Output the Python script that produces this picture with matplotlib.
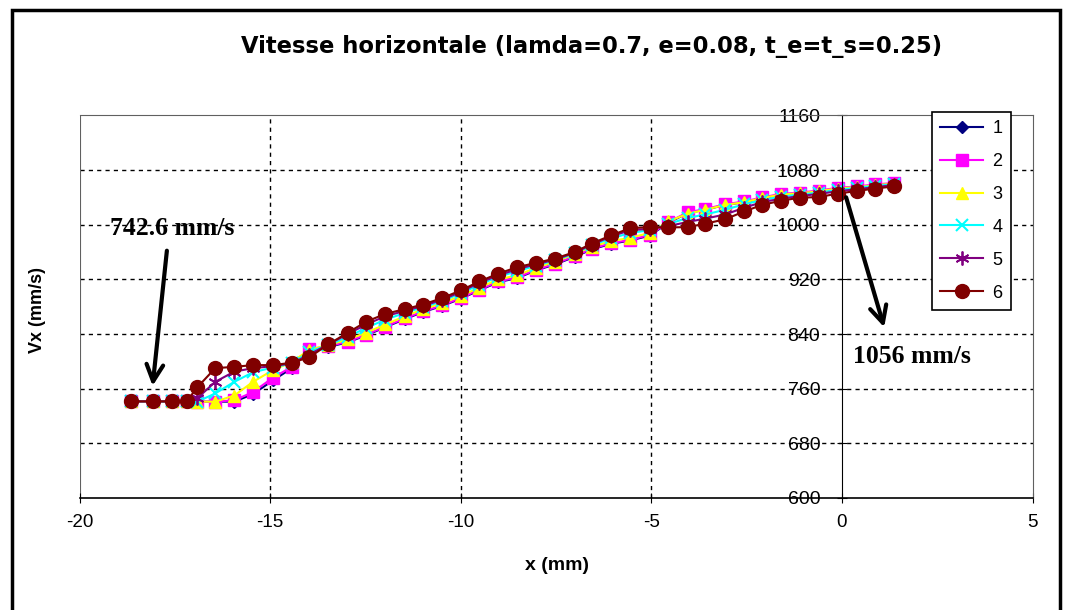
import matplotlib
matplotlib.use("Agg")
import matplotlib.pyplot as plt
from matplotlib.patches import Rectangle

# =========================
# DATA
# =========================

x = [-18.66, -18.08, -17.58, -17.19, -16.91, -16.44, -15.94, -15.45, -14.93, -14.43,
     -13.97, -13.47, -12.96, -12.48, -11.98, -11.46, -11.00, -10.49, -9.99, -9.51,
     -9.01, -8.51, -8.03, -7.52, -7.01, -6.56, -6.05, -5.55, -5.04, -4.55,
     -4.05, -3.58, -3.06, -2.56, -2.09, -1.61, -1.11, -0.61, -0.11, 0.40,
     0.88, 1.36]

vx1 = [741.4, 741.4, 741.4, 741.4, 741, 741, 741, 752, 772, 790,
       817, 821, 828, 838, 850, 862, 872, 881, 892, 904,
       916, 922, 933, 942, 953, 964, 972, 977, 984, 1003,
       1017, 1022, 1029, 1033, 1039, 1044, 1046, 1049, 1053, 1055,
       1058, 1060]
vx2 = [741.4, 741.4, 741.4, 741.4, 741, 741, 743, 755, 776, 792,
       818, 822, 829, 839, 851, 863, 873, 882, 893, 905,
       917, 923, 934, 943, 954, 965, 973, 978, 985, 1004,
       1018, 1023, 1030, 1034, 1040, 1045, 1047, 1050, 1054, 1056,
       1059, 1061]
vx3 = [741.4, 741.4, 741.4, 741.4, 741, 741, 750, 770, 787, 799,
       817, 824, 832, 842, 854, 866, 876, 885, 896, 908,
       920, 926, 937, 946, 957, 968, 976, 981, 988, 1005,
       1016, 1022, 1029, 1033, 1039, 1044, 1046, 1049, 1053, 1055,
       1058, 1060]
vx4 = [741.4, 741.4, 741.4, 741.4, 741, 753, 770, 784, 791, 797,
       814, 824, 836, 849, 861, 871, 879, 888, 900, 912,
       924, 932, 940, 948, 958, 970, 980, 988, 992, 1001,
       1010, 1015, 1022, 1030, 1036, 1041, 1044, 1047, 1051, 1054,
       1057, 1059]
vx5 = [741.4, 741.4, 741.4, 741.4, 746, 770, 785, 790, 793, 797,
       810, 825, 840, 854, 866, 874, 881, 890, 902, 915,
       926, 935, 942, 949, 959, 971, 983, 992, 994, 998,
       1004, 1009, 1015, 1025, 1033, 1038, 1042, 1045, 1049, 1052,
       1055, 1058]
vx6 = [741.4, 741.4, 741.4, 741.4, 762, 790, 792, 794.5, 794.5, 798,
       806, 825, 842, 858, 869.5, 876.5, 883, 892.5, 904, 917,
       928.5, 938, 944, 950.5, 960, 972.5, 984.5, 995, 996.5, 996,
       996.5, 1001.5, 1008, 1019.5, 1029, 1035, 1039.5, 1040.5, 1045.5, 1049.5,
       1053, 1056]

labels = ["1", "2", "3", "4", "5", "6"]
x_ticks = [-20, -15, -10, -5, 0, 5]
y_ticks = [600, 680, 760, 840, 920, 1000, 1080, 1160]

# =========================
# FIGURE
# =========================

plt.rcParams['font.family'] = ['Liberation Sans', 'DejaVu Sans']
plt.rcParams['axes.unicode_minus'] = False

fig = plt.figure(figsize=(10.66, 6.10), dpi=100)
ax = fig.add_axes([79.5 / 1066, 112 / 610, 953 / 1066, 382.6 / 610])

styles = [
    dict(color="#000080", marker="D", ms=6),
    dict(color="#FF00FF", marker="s", ms=8),
    dict(color="#FFFF00", marker="^", ms=9),
    dict(color="#00FFFF", marker="x", ms=9, mew=1.5),
    dict(color="#800080", marker=(6, 2, 0), ms=10, mew=1.3),
    dict(color="#800000", marker="o", ms=10),
]
series = [vx1, vx2, vx3, vx4, vx5, vx6]

for vals, lab, st in zip(series, labels, styles):
    ax.plot(x, vals, lw=1.5, label=lab, **st)

ax.set_xlim(-20, 5)
ax.set_ylim(600, 1160)
ax.set_xticks(x_ticks)
ax.set_yticks(y_ticks)

# grid
for xv in [-15, -10, -5]:
    ax.axvline(xv, color="black", lw=1, ls=(0, (3, 3)), zorder=0)
for yv in y_ticks[1:-1]:
    ax.axhline(yv, color="black", lw=1, ls=(0, (3, 3)), zorder=0)

# spines: y axis crossing at x=0
ax.spines['left'].set_position(('data', 0))
ax.spines['left'].set_color("black")
ax.spines['bottom'].set_color("black")
ax.spines['bottom'].set_linewidth(1.2)
for s in ['top', 'right']:
    ax.spines[s].set_color("#606060")
    ax.spines[s].set_linewidth(0.8)
ax.axvline(-20, color="#606060", lw=0.8, zorder=0)

ax.tick_params(axis='both', direction='inout', length=7)
ax.tick_params(axis='y', pad=12, labelsize=14)
ax.tick_params(axis='x', pad=8, labelsize=13.5)

fig.text(592 / 1066, 1 - 47 / 610,
         "Vitesse horizontale (lamda=0.7, e=0.08, t_e=t_s=0.25)",
         family=["DejaVu Sans"], fontsize=16.3, fontweight="bold",
         ha="center", va="center")
fig.text(557 / 1066, 1 - 565 / 610, "x (mm)", fontsize=14, fontweight="bold",
         ha="center", va="center")
fig.text(38 / 1066, 1 - 310 / 610, "Vx (mm/s)", fontsize=13, fontweight="bold",
         ha="center", va="center", rotation=90)

leg = ax.legend(loc="upper left", bbox_to_anchor=(932 / 1066, 1 - 112 / 610),
                bbox_transform=fig.transFigure, fontsize=13, frameon=True,
                fancybox=False, edgecolor="black", framealpha=1,
                handlelength=2.4, labelspacing=0.88, borderpad=0.45,
                handletextpad=0.5, borderaxespad=0)
leg.get_frame().set_linewidth(1.2)

# annotations
ax.annotate("", xy=(-18.09, 760), xytext=(-17.70, 966),
            arrowprops=dict(arrowstyle="->", color="black", lw=3,
                            mutation_scale=30))
ax.text(-19.2, 995, "742.6 mm/s", family=["Liberation Serif"], fontsize=18.5,
        fontweight="bold", ha="left", va="center")
ax.annotate("", xy=(1.13, 846), xytext=(0.09, 1044),
            arrowprops=dict(arrowstyle="->", color="black", lw=3,
                            mutation_scale=30))
ax.text(0.29, 807, "1056 mm/s", family=["Liberation Serif"], fontsize=18.5,
        fontweight="bold", ha="left", va="center")

# outer frame
fig.patches.append(Rectangle((12 / 1066, -0.01), 1048 / 1066, 1 - 10 / 610 + 0.01,
                             transform=fig.transFigure, fill=False,
                             edgecolor="black", lw=2.5))

fig.savefig("out.png", dpi=100)
